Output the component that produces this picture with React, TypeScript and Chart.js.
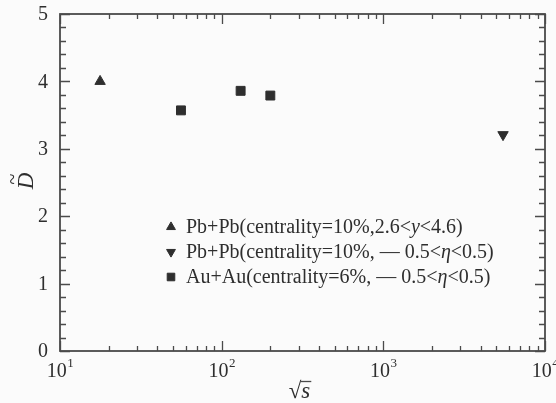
import React, { useEffect, useRef } from "react";
import { Chart, registerables } from "chart.js";
import { drawPoint } from "chart.js/helpers";

Chart.register(...registerables);

// ---- data ----
const pbpbSpsX = [17.7];
const pbpbSpsY = [4.0];
const pbpbLhcX = [5500];
const pbpbLhcY = [3.21];
const auauX = [56, 131, 200];
const auauY = [3.57, 3.86, 3.79];

const xMajorTicks = [10, 100, 1000, 10000];
const xTickExponents = ["1", "2", "3", "4"];
const yMajorTicks = [0, 1, 2, 3, 4, 5];
const yTickLabels = ["0", "1", "2", "3", "4", "5"];

// legend text: segments [text, italic]
const legendPbPbSps: [string, boolean][] = [
  ["Pb+Pb(centrality=10%,2.6<", false],
  ["y", true],
  ["<4.6)", false],
];
const legendPbPbLhc: [string, boolean][] = [
  ["Pb+Pb(centrality=10%, \u2014 0.5<", false],
  ["\u03b7", true],
  ["<0.5)", false],
];
const legendAuAu: [string, boolean][] = [
  ["Au+Au(centrality=6%, \u2014 0.5<", false],
  ["\u03b7", true],
  ["<0.5)", false],
];

const INK = "#2e2e2e";
const AXIS = "#4a4a4a";
const SERIF = "'Liberation Serif', 'DejaVu Serif', serif";

const decoPlugin = {
  id: "deco",
  afterDraw(chart: any) {
    const ctx = chart.ctx as CanvasRenderingContext2D;
    const xs = chart.scales.x;
    const ys = chart.scales.y;
    const { left, right, top, bottom } = chart.chartArea;
    ctx.save();
    ctx.strokeStyle = AXIS;
    ctx.lineWidth = 1.8;
    ctx.strokeRect(left, top, right - left, bottom - top);

    // y ticks
    ctx.lineWidth = 1.3;
    for (let i = 0; i <= 25; i++) {
      const v = i * 0.2;
      const p = Math.round(ys.getPixelForValue(v)) + 0.5;
      const major = i % 5 === 0;
      const len = major ? 10 : 6;
      ctx.beginPath();
      ctx.moveTo(left, p);
      ctx.lineTo(left + len, p);
      ctx.moveTo(right, p);
      ctx.lineTo(right - len, p);
      ctx.stroke();
    }
    // x ticks
    for (let d = 0; d < xMajorTicks.length; d++) {
      const base = xMajorTicks[d];
      const kmax = d === xMajorTicks.length - 1 ? 1 : 9;
      for (let k = 1; k <= kmax; k++) {
        const v = base * k;
        const p = Math.round(xs.getPixelForValue(v)) + 0.5;
        const len = k === 1 ? 10 : 5;
        ctx.beginPath();
        ctx.moveTo(p, bottom);
        ctx.lineTo(p, bottom - len);
        ctx.moveTo(p, top);
        ctx.lineTo(p, top + len);
        ctx.stroke();
      }
    }

    // y labels
    ctx.fillStyle = INK;
    ctx.font = `20px ${SERIF}`;
    ctx.textAlign = "right";
    ctx.textBaseline = "middle";
    yMajorTicks.forEach((v, i) => {
      ctx.fillText(yTickLabels[i], left - 12, ys.getPixelForValue(v) + 1);
    });

    // x labels 10^n
    ctx.textBaseline = "alphabetic";
    ctx.textAlign = "left";
    xMajorTicks.forEach((v, i) => {
      const p = xs.getPixelForValue(v);
      ctx.font = `20px ${SERIF}`;
      const w1 = ctx.measureText("10").width;
      ctx.font = `13px ${SERIF}`;
      const w2 = ctx.measureText(xTickExponents[i]).width;
      const x0 = p - (w1 + w2) / 2;
      ctx.font = `20px ${SERIF}`;
      ctx.fillText("10", x0, bottom + 26);
      ctx.font = `13px ${SERIF}`;
      ctx.fillText(xTickExponents[i], x0 + w1 + 0.5, bottom + 16);
    });

    // x title sqrt(s)
    const cx = (left + right) / 2 - 3;
    ctx.font = `23px ${SERIF}`;
    const wr = ctx.measureText("\u221a").width;
    ctx.font = `italic 23px ${SERIF}`;
    const ws = ctx.measureText("s").width;
    const tx = cx - (wr + ws) / 2;
    ctx.font = `23px ${SERIF}`;
    ctx.fillText("\u221a", tx, 398);
    ctx.font = `italic 23px ${SERIF}`;
    ctx.fillText("s", tx + wr, 398);
    ctx.lineWidth = 1.3;
    ctx.beginPath();
    ctx.moveTo(tx + wr - 1, 381.5);
    ctx.lineTo(tx + wr + ws + 1, 381.5);
    ctx.stroke();

    // y title D~
    ctx.save();
    ctx.translate(33, 181);
    ctx.rotate(-Math.PI / 2);
    ctx.textAlign = "center";
    ctx.font = `italic 23px ${SERIF}`;
    ctx.fillText("D", 0, 0);
    ctx.font = `20px ${SERIF}`;
    ctx.fillText("~", 2, -14);
    ctx.restore();

    // legend
    const rows = [
      { seg: legendPbPbSps, ds: 0, y: 227 },
      { seg: legendPbPbLhc, ds: 1, y: 252 },
      { seg: legendAuAu, ds: 2, y: 277 },
    ];
    ctx.textAlign = "left";
    ctx.textBaseline = "middle";
    rows.forEach((r) => {
      const ds = chart.data.datasets[r.ds];
      ctx.fillStyle = INK;
      ctx.strokeStyle = INK;
      ctx.lineWidth = 1;
      drawPoint(ctx, {
        pointStyle: ds.pointStyle,
        radius: ds.pointRadius * 0.85,
        rotation: ds.rotation || 0,
        borderWidth: 1,
      } as any, 171, r.y);
      let x = 186;
      r.seg.forEach(([t, it]) => {
        ctx.font = `${it ? "italic " : ""}20px ${SERIF}`;
        ctx.fillText(t, x, r.y + 1);
        x += ctx.measureText(t).width;
      });
    });
    ctx.restore();
  },
};

export default function App() {
  const ref = useRef<HTMLCanvasElement | null>(null);
  useEffect(() => {
    document.body.style.margin = "0";
    const toPts = (xs: number[], ys: number[]) => xs.map((x, i) => ({ x, y: ys[i] }));
    const chart = new Chart(ref.current as HTMLCanvasElement, {
      type: "scatter",
      data: {
        datasets: [
          {
            label: "Pb+Pb SPS",
            data: toPts(pbpbSpsX, pbpbSpsY),
            pointStyle: "triangle",
            pointRadius: 6,
            backgroundColor: INK,
            borderColor: INK,
            borderWidth: 1,
          } as any,
          {
            label: "Pb+Pb LHC",
            data: toPts(pbpbLhcX, pbpbLhcY),
            pointStyle: "triangle",
            rotation: 180,
            pointRadius: 6,
            backgroundColor: INK,
            borderColor: INK,
            borderWidth: 1,
          } as any,
          {
            label: "Au+Au",
            data: toPts(auauX, auauY),
            pointStyle: "rect",
            pointRadius: 6.3,
            backgroundColor: INK,
            borderColor: INK,
            borderWidth: 1,
          } as any,
        ],
      },
      options: {
        responsive: false,
        animation: false,
        devicePixelRatio: 1,
        layout: { padding: { left: 60, right: 11, top: 14, bottom: 52 } },
        plugins: { legend: { display: false }, tooltip: { enabled: false } },
        scales: {
          x: { type: "logarithmic", min: 10, max: 10000, display: false },
          y: { type: "linear", min: 0, max: 5, display: false },
        },
      },
      plugins: [decoPlugin],
    });
    return () => chart.destroy();
  }, []);
  return (
    <div style={{ position: "absolute", left: 0, top: 0, width: 556, height: 403, background: "#fbfbfb" }}>
      <canvas ref={ref} width={556} height={403} />
    </div>
  );
}
